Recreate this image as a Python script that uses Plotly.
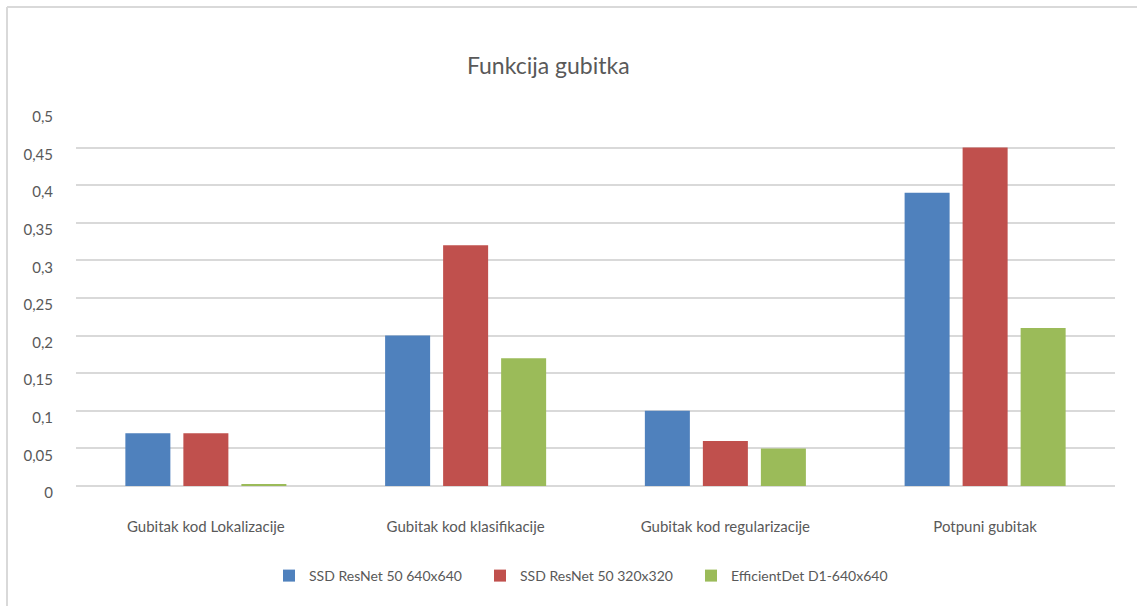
import plotly.graph_objects as go

categories = ["Gubitak kod Lokalizacije", "Gubitak kod klasifikacije",
              "Gubitak kod regularizacije", "Potpuni gubitak"]
series_names = ["SSD ResNet 50 640x640", "SSD ResNet 50 320x320", "EfficientDet D1-640x640"]
ssd_640 = [0.07, 0.2, 0.1, 0.39]
ssd_320 = [0.07, 0.32, 0.06, 0.45]
effdet = [0.002, 0.17, 0.05, 0.21]
tick_vals = [0, 0.05, 0.1, 0.15, 0.2, 0.25, 0.3, 0.35, 0.4, 0.45, 0.5]
tick_text = ["0", "0,05", "0,1", "0,15", "0,2", "0,25", "0,3", "0,35", "0,4", "0,45", "0,5"]
colors = ["#4F81BD", "#C0504D", "#9BBB59"]

W, H = 1137, 606
L, R, T, B = 76, 22, 110, 120
FONT = "Lato"
GREY = "#595959"

fig = go.Figure()
for name, vals, c in zip(series_names, [ssd_640, ssd_320, effdet], colors):
    fig.add_trace(go.Bar(x=categories, y=vals, name=name, marker=dict(color=c, line=dict(width=0))))

pw, ph = W - L - R, H - T - B
def px(x): return (x - L) / pw
def py(y): return (H - B - y) / ph

fig.update_layout(
    width=W, height=H,
    margin=dict(l=L, r=R, t=T, b=B),
    paper_bgcolor="white", plot_bgcolor="white",
    barmode="group", bargap=0.33, bargroupgap=0.224,
    font=dict(family=FONT, size=14, color=GREY),
    title=dict(text="Funkcija gubitka", x=px(577), xanchor="center",
               y=1 - 66 / H, yanchor="middle",
               font=dict(family=FONT, size=23, color=GREY)),
    showlegend=True,
    legend=dict(orientation="h", x=px(269), xanchor="left", y=py(576), yanchor="middle",
                font=dict(family=FONT, size=14, color=GREY), itemwidth=30,
                entrywidth=166, entrywidthmode="pixels",
                traceorder="normal"),
    xaxis=dict(showgrid=False, showline=False, ticks="", ticklabelstandoff=30,
               tickfont=dict(family=FONT, size=15, color=GREY)),
    yaxis=dict(range=[0, 0.5], tickvals=tick_vals, ticktext=tick_text,
               showgrid=True, gridcolor="#D9D9D9", gridwidth=1.5,
               zeroline=True, zerolinecolor="#D9D9D9", zerolinewidth=1.5,
               showline=False, ticks="", ticklabelstandoff=22, ticklabelshift=7,
               tickfont=dict(family=FONT, size=15, color=GREY)),
    shapes=[
        dict(type="line", xref="paper", yref="paper", x0=px(7), x1=px(1137), y0=py(7), y1=py(7),
             line=dict(color="#D9D9D9", width=2), layer="below"),
        dict(type="line", xref="paper", yref="paper", x0=px(7), x1=px(7), y0=py(7), y1=py(606),
             line=dict(color="#D9D9D9", width=2), layer="below"),
    ],
)
fig.write_html("out.html", config={"displayModeBar": False},
               post_script="document.body.style.margin='0px';document.body.style.overflow='hidden';")
